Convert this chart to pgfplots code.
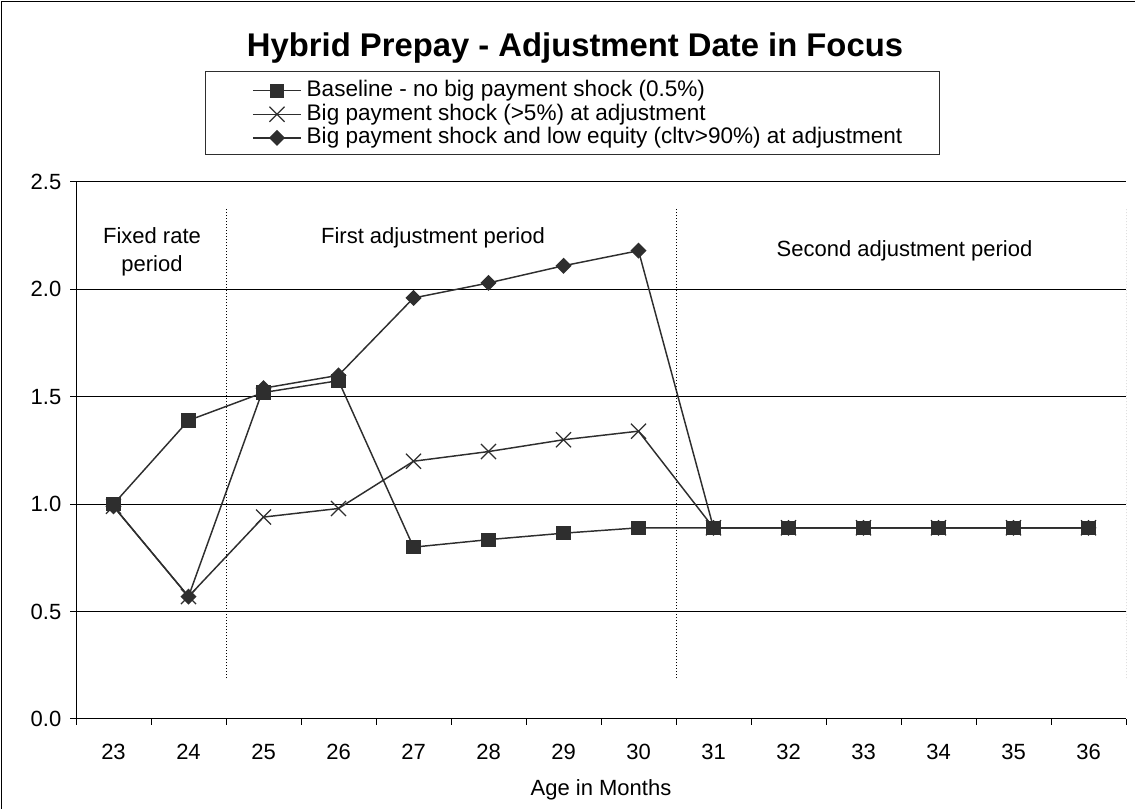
\documentclass[border=0pt]{standalone}
\usepackage{fontspec}
\setmainfont{Liberation Sans}
\usepackage{pgfplots}
\pgfplotsset{compat=1.18}
\definecolor{dk}{HTML}{2E2E2E}
\begin{document}
\begin{tikzpicture}[x=1pt,y=1pt]
\path[use as bounding box] (0,0) rectangle (851.25,606.75);
\draw[line width=0.9pt, black] (1.2,0) -- (1.2,605.5) -- (851.25,605.5);
\begin{axis}[
  at={(57pt,67.5pt)}, anchor=south west,
  scale only axis, width=787.5pt, height=402.75pt,
  xmin=22.5, xmax=36.5, ymin=0, ymax=2.5,
  axis x line*=bottom, axis y line*=left,
  axis line style={black, line width=0.75pt, -},
  xtick={23,...,36},
  minor xtick={22.5,23.5,...,36.5},
  major x tick style={draw=none},
  ytick={0,0.5,...,2.5},
  tick align=outside,
  major tick length=4.5pt, minor tick length=4.5pt,
  tick style={black, line width=0.75pt},
  ymajorgrids, grid style={black, line width=0.75pt},
  /pgf/number format/assume math mode=true,
  ticklabel style={font=\fontsize{16.5}{18}\selectfont},
  xticklabel style={yshift=-11pt},
  yticklabel style={xshift=-3pt, /pgf/number format/fixed, /pgf/number format/fixed zerofill, /pgf/number format/precision=1},
  xlabel={Age in Months},
  xlabel style={font=\fontsize{16.5}{18}\selectfont, at={(rel axis cs:0.5,0)}, anchor=center, yshift=-53pt},
  reverse legend,
  legend style={at={(rel axis cs:0.1676,1.1900)}, anchor=north west, draw=none, fill=none,
    inner sep=0pt, row sep=2.0pt, column sep=3.75pt,
    font=\fontsize{16.9}{18}\selectfont,
    nodes={inner sep=0pt, text height=12.2pt, text depth=3.5pt}},
  legend cell align=left,
  legend image code/.code={\draw[#1, line width=1.1pt, mark repeat=2, mark phase=2] plot coordinates {(0pt,0pt) (18pt,0pt) (36pt,0pt)};},
  every axis plot/.append style={line width=1.1pt, dk},
]
% big shock + low equity (diamond)
\addplot[dk, mark=square*, mark size=3.7pt, mark options={rotate=45, fill=dk, draw=dk, solid}] coordinates {
(23,0.99) (24,0.57) (25,1.54) (26,1.60) (27,1.96) (28,2.03) (29,2.11) (30,2.18)
(31,0.89) (32,0.89) (33,0.89) (34,0.89) (35,0.89) (36,0.89)};
\addlegendentry{Big payment shock and low equity (cltv>90\%) at adjustment}
% big shock (x)
\addplot[dk, mark=x, mark size=8pt, mark options={line width=0.9pt, solid}] coordinates {
(23,0.99) (24,0.57) (25,0.94) (26,0.98) (27,1.20) (28,1.245) (29,1.30) (30,1.34)
(31,0.89) (32,0.89) (33,0.89) (34,0.89) (35,0.89) (36,0.89)};
\addlegendentry{Big payment shock (>5\%) at adjustment}
% baseline (square)
\addplot[dk, mark=square*, mark size=4.8pt, mark options={fill=dk, draw=dk, solid}] coordinates {
(23,1.00) (24,1.39) (25,1.52) (26,1.575) (27,0.80) (28,0.835) (29,0.865) (30,0.89)
(31,0.89) (32,0.89) (33,0.89) (34,0.89) (35,0.89) (36,0.89)};
\addlegendentry{Baseline - no big payment shock (0.5\%)}
\draw[black, line width=0.75pt, dash pattern=on 0.75pt off 1.5pt] (axis cs:24.5,0.19) -- (axis cs:24.5,2.38);
\draw[black, line width=0.75pt, dash pattern=on 0.75pt off 1.5pt] (axis cs:30.5,0.19) -- (axis cs:30.5,2.38);
\draw[black, line width=0.75pt, dash pattern=on 0.75pt off 1.5pt] (axis cs:36.5,0.19) -- (axis cs:36.5,2.38);
\end{axis}
\draw[dk, line width=0.75pt] (153.75,490.5) rectangle (704.25,552.75);
\node[anchor=base, font=\bfseries\fontsize{24.6}{28}\selectfont, inner sep=0pt] at (431.25,564) {Hybrid Prepay - Adjustment Date in Focus};
\node[anchor=base, font=\fontsize{16.5}{18}\selectfont, inner sep=0pt] at (114,423.75) {Fixed rate};
\node[anchor=base, font=\fontsize{16.5}{18}\selectfont, inner sep=0pt] at (114,402.75) {period};
\node[anchor=base, font=\fontsize{16.5}{18}\selectfont, inner sep=0pt] at (324.75,423.75) {First adjustment period};
\node[anchor=base, font=\fontsize{16.5}{18}\selectfont, inner sep=0pt] at (678.4,414) {Second adjustment period};
\end{tikzpicture}
\end{document}
